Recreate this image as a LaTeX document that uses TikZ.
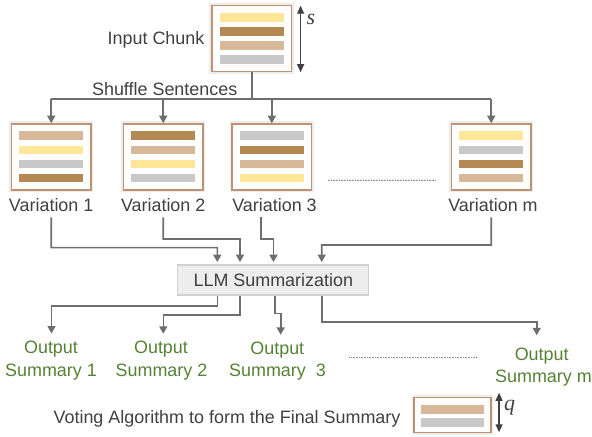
\documentclass[tikz,border=0pt]{standalone}
\usepackage{fontspec}
\setmainfont{Liberation Sans}
\newfontfamily\varfont{Liberation Serif}
\usetikzlibrary{arrows.meta,calc}

\definecolor{barY}{HTML}{FFE699}
\definecolor{barB}{HTML}{B58A52}
\definecolor{barT}{HTML}{D7B99A}
\definecolor{barG}{HTML}{C8C8C8}
\definecolor{frameC}{HTML}{C09274}
\definecolor{wireC}{HTML}{6E6E6E}
\definecolor{inkC}{HTML}{404040}
\definecolor{sumC}{HTML}{548235}
\definecolor{llmFill}{HTML}{EDEDED}
\definecolor{llmLine}{HTML}{D0D0D0}

% four sentence bars inside a document box, top to bottom
\newcommand\fourbars[5]{%
  \foreach \c [count=\i] in {#2,#3,#4,#5}
    \fill[\c] ($(#1.center)+(-32,{-25.5+14.1*(\i-1)})$) rectangle ++(64,8.7);}

\begin{document}
\begin{tikzpicture}[x=1bp,y=-1bp,
  doc/.style={draw=frameC, line width=1.5bp, fill=white,
    minimum width=79.5bp, minimum height=66bp, inner sep=0pt,
    preaction={draw=black, draw opacity=0.07, line width=5bp}},
  lbl/.style={font=\fontsize{18}{21}\selectfont, text=inkC, inner sep=0pt, anchor=base},
  sumlbl/.style={lbl, text=sumC},
  varlbl/.style={anchor=base west, inner sep=0pt, text=inkC,
    font=\varfont\itshape\fontsize{22}{24}\selectfont},
  wire/.style={draw=wireC, line width=1.6bp},
  arr/.style={wire, -{Triangle[width=8bp,length=7.5bp]}},
  dim/.style={draw=inkC, line width=1.2bp,
    {Triangle[width=7bp,length=8bp]}-{Triangle[width=7bp,length=8bp]}},
  dots/.style={draw=black!45, line width=0.7bp, dash pattern=on 0.7bp off 0.9bp},
  llmbox/.style={draw=llmLine, fill=llmFill, line width=1.2bp,
    minimum width=191bp, minimum height=30bp, inner sep=0pt,
    font=\fontsize{18}{21}\selectfont, text=inkC}]
\useasboundingbox (0,0) rectangle (592,437);

% ---- input chunk ----
\node[doc] (chunk) at (251.7,38.5) {};
\fourbars{chunk}{barY}{barB}{barT}{barG}
\node[lbl] (inlbl) at (156,45) {Input Chunk};
\draw[dim] ([xshift=8.4bp,yshift=-1bp]chunk.north east) -- ([xshift=8.4bp]chunk.south east);
\node[varlbl] (slbl) at (306.5,24.3) {s};

% ---- shuffled variations ----
\node[doc] (v1) at (51.2,157) {};
\fourbars{v1}{barT}{barY}{barG}{barB}
\node[doc] (v2) at (163.2,157) {};
\fourbars{v2}{barB}{barT}{barY}{barG}
\node[doc] (v3) at (271.8,157) {};
\fourbars{v3}{barG}{barB}{barT}{barY}
\node[doc] (vm) at (491.2,157) {};
\fourbars{vm}{barY}{barG}{barB}{barT}

\node[lbl] (v1l) at (51.2,211.7) {Variation 1};
\node[lbl] (v2l) at (163.2,211.7) {Variation 2};
\node[lbl] (v3l) at (274.5,211.7) {Variation 3};
\node[lbl] (vml) at (493,211.7) {Variation m};
\draw[dots] (327.7,180) -- (435,180);

% ---- shuffle fan-out ----
\coordinate (bus) at (0,99);
\node[lbl] (shuf) at (164.7,96) {Shuffle Sentences};
\draw[wire] (chunk.south) -- (chunk.south |- bus);
\draw[wire] (v1.north |- bus) -- (vm.north |- bus);
\foreach \v in {v1,v2,v3,vm}
  \draw[arr] (\v.north |- bus) -- (\v.north);

% ---- summarizer ----
\node[llmbox] (llm) at (273.3,280) {LLM Summarization};

\coordinate (t1) at ([xshift=-56bp,yshift=2.3bp]llm.north);
\coordinate (t2) at ([xshift=-33.3bp,yshift=2.3bp]llm.north);
\coordinate (t3) at ([xshift=0.2bp,yshift=2.3bp]llm.north);
\coordinate (t4) at ([xshift=48.4bp,yshift=2.3bp]llm.north);
\coordinate (b1) at (217.3,247.7);
\coordinate (b2) at (240,239);
\coordinate (b3) at (273.5,239);
\coordinate (b4) at (321.7,245);
\draw[arr] ([yshift=-5.3bp]v1l.south) |- (b1) -- (t1);
\draw[arr] ([yshift=-5.3bp]v2l.south) |- (b2) -- (t2);
\draw[arr] ([xshift=-13.8bp,yshift=-5.3bp]v3l.south) |- (b3) -- (t3);
\draw[arr] ([xshift=-1.8bp,yshift=-5.3bp]vml.south) |- (b4) -- (t4);

% ---- output summaries ----
\node[sumlbl] (o1) at (51,353.3) {Output};
\node[sumlbl] (o1b) at (51,376) {Summary 1};
\node[sumlbl] (o2) at (161,353.5) {Output};
\node[sumlbl] (o2b) at (161.5,376) {Summary 2};
\node[sumlbl] (o3) at (277.3,354) {Output};
\node[sumlbl] (o3b) at (277.5,376) {Summary\ \ 3};
\node[sumlbl] (om) at (541.7,360) {Output};
\node[sumlbl] (omb) at (543.5,382.7) {Summary m};
\draw[dots] (349.3,357.7) -- (476.7,357.7);

\coordinate (s1) at ([xshift=-56bp]llm.south);
\coordinate (s2) at ([xshift=-33.3bp]llm.south);
\coordinate (s3) at ([xshift=1.7bp]llm.south);
\coordinate (s4) at ([xshift=48.7bp]llm.south);
\coordinate (c1) at (51.5,306);
\coordinate (c2) at (163.3,315);
\coordinate (c3) at (280.7,313.5);
\coordinate (c4) at (536.7,322);
\coordinate (e1) at ([yshift=7bp]o1.north);
\coordinate (e2) at ([yshift=7bp]o2.north);
\coordinate (e3) at ([yshift=6.5bp]o3.north);
\coordinate (e4) at ([yshift=12bp]om.north);
\draw[arr] (s1) |- (c1) -- (c1 |- e1);
\draw[arr] (s2) |- (c2) -- (c2 |- e2);
\draw[arr] (s3) |- (c3) -- (c3 |- e3);
\draw[arr] (s4) |- (c4) -- (c4 |- e4);

% ---- final vote ----
\node[lbl, anchor=base west] (vote) at (53.4,423.5) {Voting Algorithm to form the Final Summary};
\node[doc, minimum width=76.6bp, minimum height=35bp] (final) at (452.5,415) {};
\fill[barT] ($(final.center)+(-31.6,-10)$) rectangle ++(63.2,9);
\fill[barG] ($(final.center)+(-31.6,3)$) rectangle ++(63.2,9);
\draw[dim] ([xshift=7.5bp,yshift=4bp]final.north east) -- ([xshift=7.5bp,yshift=1bp]final.south east);
\node[varlbl] (qlbl) at (504,410.5) {q};
\end{tikzpicture}
\end{document}
